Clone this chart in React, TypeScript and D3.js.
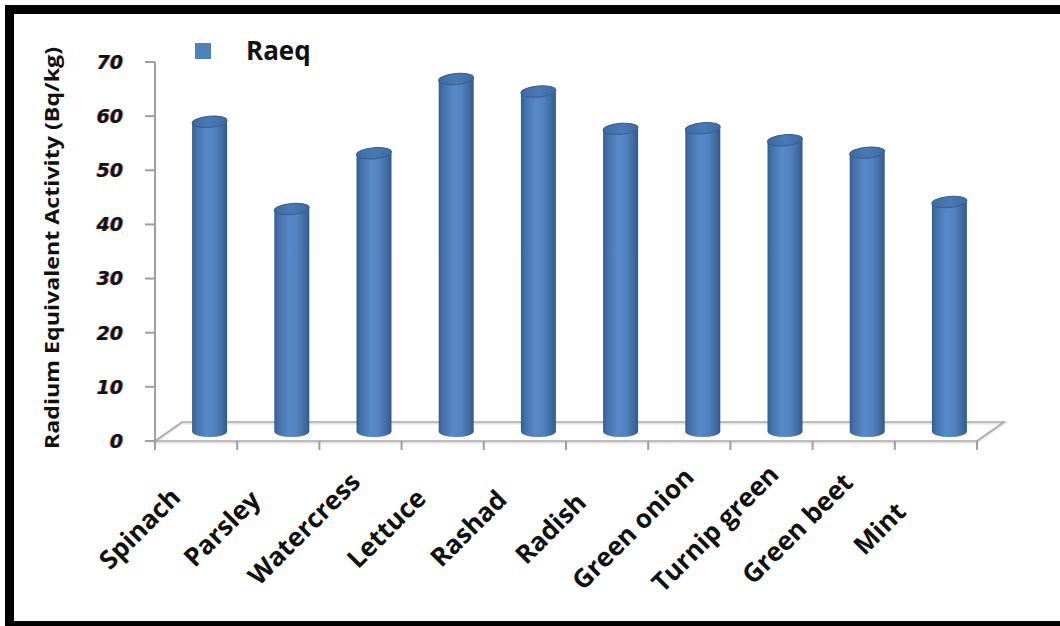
import React from "react";
import * as d3 from "d3";

// Radium equivalent activity per vegetable (Bq/kg)
const categories = [
  "Spinach",
  "Parsley",
  "Watercress",
  "Lettuce",
  "Rashad",
  "Radish",
  "Green onion",
  "Turnip green",
  "Green beet",
  "Mint",
];
const raeqValues = [57.2, 41.1, 51.4, 65.1, 62.8, 55.9, 56.0, 53.8, 51.5, 42.4];
const yTicks = [0, 10, 20, 30, 40, 50, 60, 70];
const seriesName = "Raeq";
const yTitle = "Radium Equivalent Activity (Bq/kg)";

const W = 1060;
const H = 626;

export default function App() {
  const x = d3.scaleBand<string>().domain(categories).range([155, 977]).padding(0);
  const y = d3.scaleLinear().domain([0, 70]).range([441, 62]);
  // oblique depth of the 3D floor
  const depthX = 27;
  const depthY = -19;
  const midX = depthX / 2;
  const midY = depthY / 2;
  const barW = 35;
  const rx = barW / 2;
  const ry = 5.5;
  const baseY = y(0) + midY;

  const floorPts = [
    [x.range()[0], y(0)],
    [x.range()[1], y(0)],
    [x.range()[1] + depthX, y(0) + depthY],
    [x.range()[0] + depthX, y(0) + depthY],
  ];
  const boundaries = [...categories.map((c) => x(c) as number), x.range()[1]];

  const tickFont = "'DejaVu Sans', sans-serif";
  const labelFont = "'Open Sans', 'Liberation Sans', sans-serif";

  return (
    <svg
      width={W}
      height={H}
      viewBox={`0 0 ${W} ${H}`}
      style={{ position: "fixed", left: 0, top: 0, background: "#fff" }}
    >
      <defs>
        <linearGradient id="cylBody" x1="0" x2="1" y1="0" y2="0">
          <stop offset="0" stopColor="#355d90" />
          <stop offset="0.12" stopColor="#4471ab" />
          <stop offset="0.42" stopColor="#5889c8" />
          <stop offset="0.65" stopColor="#5282c0" />
          <stop offset="0.88" stopColor="#40699f" />
          <stop offset="1" stopColor="#34598a" />
        </linearGradient>
        <linearGradient id="cylTop" x1="0" x2="1" y1="0" y2="0">
          <stop offset="0" stopColor="#3f6aa1" />
          <stop offset="0.5" stopColor="#4b79b5" />
          <stop offset="1" stopColor="#3f6aa1" />
        </linearGradient>
        <filter id="soft" x="-20%" y="-20%" width="140%" height="140%">
          <feGaussianBlur stdDeviation="0.4" />
        </filter>
      </defs>

      {/* outer frame */}
      <rect x={9.5} y={9.5} width={1120} height={616} fill="none" stroke="#000" strokeWidth={9} />

      {/* floor of the 3D plot */}
      <polygon
        points={floorPts.map((p) => `${p[0]},${p[1] + 1.5}`).join(" ")}
        fill="none"
        stroke="#e3e3e3"
        strokeWidth={2}
      />
      <polygon
        points={floorPts.map((p) => p.join(",")).join(" ")}
        fill="none"
        stroke="#a9a9a9"
        strokeWidth={1.6}
      />

      {/* value axis */}
      <line x1={155} x2={155} y1={y(70)} y2={y(0)} stroke="#a0a0a0" strokeWidth={2} />
      {yTicks.map((t) => (
        <g key={t}>
          <line x1={145} x2={155} y1={y(t)} y2={y(t)} stroke="#a0a0a0" strokeWidth={2} />
          <text
            x={123}
            y={y(t)}
            dx={-0.9}
            dy="0.36em"
            textAnchor="end"
            fontFamily={tickFont}
            fontWeight="bold"
            fontStyle="italic"
            fontSize={19}
            fill="#f0a040"
            opacity={0.85}
          >
            {t}
          </text>
          <text
            x={123}
            y={y(t)}
            dx={0.9}
            dy="0.36em"
            textAnchor="end"
            fontFamily={tickFont}
            fontWeight="bold"
            fontStyle="italic"
            fontSize={19}
            fill="#3a78d0"
            opacity={0.6}
          >
            {t}
          </text>
          <text
            x={123}
            y={y(t)}
            dy="0.36em"
            textAnchor="end"
            fontFamily={tickFont}
            fontWeight="bold"
            fontStyle="italic"
            fontSize={19}
            fill="#111"
          >
            {t}
          </text>
        </g>
      ))}

      {/* category tick marks */}
      {boundaries.map((b, i) => (
        <line key={i} x1={b} x2={b} y1={y(0)} y2={y(0) + 9} stroke="#a0a0a0" strokeWidth={2} />
      ))}

      {/* cylinders */}
      {categories.map((c, i) => {
        const cx = (x(c) as number) + x.bandwidth() / 2 + midX;
        const topY = y(raeqValues[i]) + midY;
        const body = `M${cx - rx},${topY} L${cx - rx},${baseY} A${rx},${ry} 0 0 0 ${cx + rx},${baseY} L${cx + rx},${topY} Z`;
        return (
          <g key={c} filter="url(#soft)">
            <path d={body} fill="url(#cylBody)" />
            <ellipse
              cx={cx}
              cy={topY}
              rx={rx}
              ry={ry}
              transform={`rotate(-5 ${cx} ${topY})`}
              fill="url(#cylTop)"
              stroke="#365e92"
              strokeWidth={1}
            />
          </g>
        );
      })}

      {/* category labels, centred on a diagonal below each category */}
      {categories.map((c) => {
        const cx = (x(c) as number) + x.bandwidth() / 2;
        return (
          <text
            key={c}
            transform={`translate(${cx - 50},${535}) rotate(-45)`}
            textAnchor="middle"
            fontFamily={labelFont}
            fontWeight="bold"
            fontSize={26}
            fill="#111"
          >
            {c}
          </text>
        );
      })}

      {/* value axis title */}
      <text
        transform={`translate(59,${248}) rotate(-90)`}
        textAnchor="middle"
        fontFamily={labelFont}
        fontWeight="bold"
        fontSize={19}
        textLength={402}
        lengthAdjust="spacingAndGlyphs"
        fill="#111"
      >
        {yTitle}
      </text>

      {/* legend */}
      <rect x={195} y={43} width={16} height={16} fill="#4f81bd" />
      <text x={246} y={60} fontFamily={labelFont} fontWeight="bold" fontSize={26} fill="#111">
        {seriesName}
      </text>
    </svg>
  );
}
